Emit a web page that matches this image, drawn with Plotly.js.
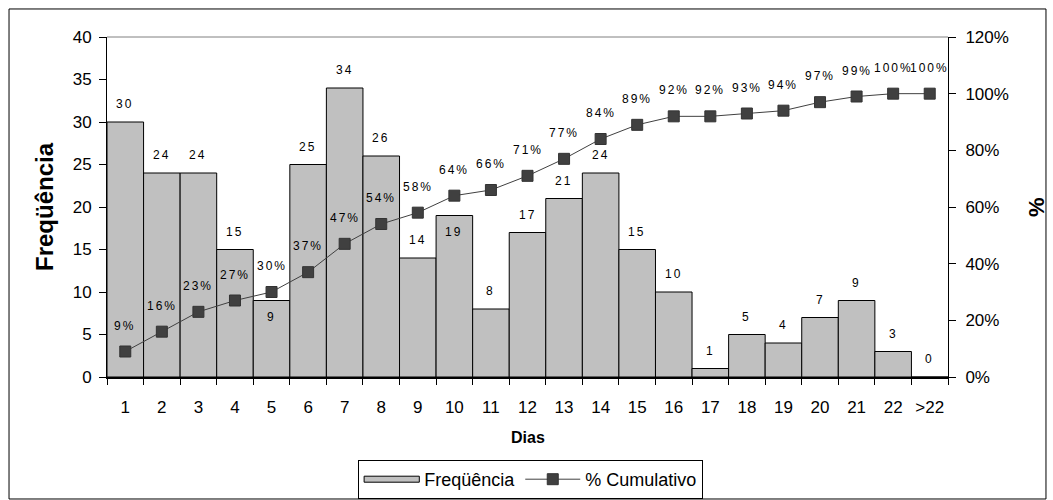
<!DOCTYPE html>
<html>
<head>
<meta charset="utf-8">
<script src="https://cdn.plot.ly/plotly-3.0.1.min.js"></script>
<style>
  html, body { margin: 0; padding: 0; background: #fff; }
  #chart { width: 1053px; height: 500px; }
  /* spaced digits for the value labels (title annotations are 0..2) */
  .annotation:not([data-index="0"]):not([data-index="1"]):not([data-index="2"]) .annotation-text {
    letter-spacing: 2px;
  }
  /* flat, wide swatch for the bar series in the legend */
  .legend .traces:first-of-type .legendpoints path {
    transform: translate(32.5px, 0px) scale(4.6, 0.5);
    vector-effect: non-scaling-stroke;
  }
</style>
</head>
<body>
<div id="chart"></div>
<script>
// Days until event, frequency per day and cumulative share (%)
const dias = ['1','2','3','4','5','6','7','8','9','10','11','12','13','14','15','16','17','18','19','20','21','22','>22'];
const freq = [30,24,24,15,9,25,34,26,14,19,8,17,21,24,15,10,1,5,4,7,9,3,0];
const cumPct = [9,16,23,27,30,37,47,54,58,64,66,71,77,84,89,92,92,93,94,97,99,100,100];

// bars whose count label sits inside the bar top
const labelInside = ['5','10'];

const FONT = 'Liberation Sans, Arial, Helvetica, sans-serif';

const barTrace = {
  type: 'bar',
  name: 'Freqüência',
  x: dias,
  y: freq,
  width: 1,
  marker: { color: '#C0C0C0', line: { color: '#000000', width: 1 } },
  hoverinfo: 'x+y'
};

const lineTrace = {
  type: 'scatter',
  mode: 'lines+markers',
  name: '% Cumulativo',
  x: dias,
  y: cumPct.map(v => v / 100),
  yaxis: 'y2',
  line: { color: '#404040', width: 1 },
  marker: { symbol: 'square', size: 11, color: '#404040', line: { color: '#333333', width: 1 } },
  hoverinfo: 'x+y'
};

// axis titles first, then value labels
const annotations = [
  { text: 'Freqüência', xref: 'paper', yref: 'paper', x: -0.0749, y: 0.5, textangle: -90,
    showarrow: false, xanchor: 'center', yanchor: 'middle',
    font: { family: FONT, size: 24, color: '#000', weight: 'bold' } },
  { text: '%', xref: 'paper', yref: 'paper', x: 1.1046, y: 0.5, textangle: -90,
    showarrow: false, xanchor: 'center', yanchor: 'middle',
    font: { family: FONT, size: 22, color: '#000', weight: 'bold' } },
  { text: 'Dias', xref: 'paper', yref: 'paper', x: 0.5, y: -0.179,
    showarrow: false, xanchor: 'center', yanchor: 'middle',
    font: { family: FONT, size: 16, color: '#000', weight: 'bold' } }
];

// category positions are given by index on the category axis
dias.forEach((d, i) => {
  annotations.push({
    text: String(freq[i]), x: i, y: freq[i], xref: 'x', yref: 'y',
    showarrow: false, xanchor: 'center', yanchor: 'middle',
    yshift: labelInside.includes(d) ? -16 : 18,
    font: { family: FONT, size: 12, color: '#000' }
  });
  annotations.push({
    text: cumPct[i] + '%', x: i, y: cumPct[i] / 100, xref: 'x', yref: 'y2',
    showarrow: false, xanchor: 'center', yanchor: 'middle',
    yshift: 26,
    font: { family: FONT, size: 12, color: '#000' }
  });
});

const TICKFONT = { family: FONT, size: 17, color: '#000' };

const layout = {
  width: 1053,
  height: 500,
  margin: { l: 107, r: 105, t: 37, b: 123, pad: 0, autoexpand: false },
  paper_bgcolor: '#ffffff',
  plot_bgcolor: '#ffffff',
  font: { family: FONT, size: 16, color: '#000' },
  bargap: 0,
  showlegend: true,
  legend: {
    orientation: 'h',
    xref: 'container', yref: 'container',
    x: 0.504, xanchor: 'center',
    y: 0.08, yanchor: 'top',
    bordercolor: '#000', borderwidth: 1,
    itemwidth: 55,
    font: { family: FONT, size: 18, color: '#000' },
    traceorder: 'normal'
  },
  xaxis: {
    type: 'category',
    range: [-0.5, dias.length - 0.5],
    tickson: 'boundaries',
    tickangle: 0,
    ticks: 'outside', ticklen: 6, tickcolor: '#000', tickwidth: 1,
    showline: true, linecolor: '#000', linewidth: 1.5,
    showgrid: false, zeroline: false,
    ticklabelstandoff: 14,
    tickfont: TICKFONT,
    fixedrange: true
  },
  yaxis: {
    range: [0, 40], dtick: 5, tick0: 0,
    ticks: 'outside', ticklen: 7, tickcolor: '#000', tickwidth: 1,
    showline: true, linecolor: '#000', linewidth: 1,
    showgrid: false, zeroline: false,
    ticklabelstandoff: 4,
    tickfont: TICKFONT,
    fixedrange: true
  },
  yaxis2: {
    overlaying: 'y', side: 'right', anchor: 'x',
    range: [0, 1.2], dtick: 0.2, tick0: 0, tickformat: '.0%',
    ticks: 'outside', ticklen: 7, tickcolor: '#000', tickwidth: 1,
    showline: true, linecolor: '#000', linewidth: 1,
    showgrid: false, zeroline: false,
    ticklabelstandoff: 6,
    tickfont: TICKFONT,
    fixedrange: true
  },
  // inner halves of the crossing tick marks
  yaxis3: {
    overlaying: 'y', side: 'left', anchor: 'x',
    range: [0, 40], dtick: 5, tick0: 0,
    ticks: 'inside', ticklen: 7, tickcolor: '#000', tickwidth: 1,
    showticklabels: false, showline: false, showgrid: false, zeroline: false,
    fixedrange: true
  },
  yaxis4: {
    overlaying: 'y', side: 'right', anchor: 'x',
    range: [0, 1.2], dtick: 0.2, tick0: 0,
    ticks: 'inside', ticklen: 7, tickcolor: '#000', tickwidth: 1,
    showticklabels: false, showline: false, showgrid: false, zeroline: false,
    fixedrange: true
  },
  annotations: annotations,
  shapes: [
    // top edge of the plot area
    { type: 'line', xref: 'paper', yref: 'paper', x0: 0, x1: 1, y0: 1, y1: 1,
      line: { color: '#808080', width: 1 } },
    // chart frame
    { type: 'rect', xref: 'paper', yref: 'paper',
      x0: -0.1165, x1: 1.1165, y0: -0.3588, y1: 1.0824,
      line: { color: '#000', width: 1 }, layer: 'below' }
  ]
};

Plotly.newPlot('chart', [barTrace, lineTrace], layout, { displayModeBar: false, staticPlot: true });
</script>
</body>
</html>
